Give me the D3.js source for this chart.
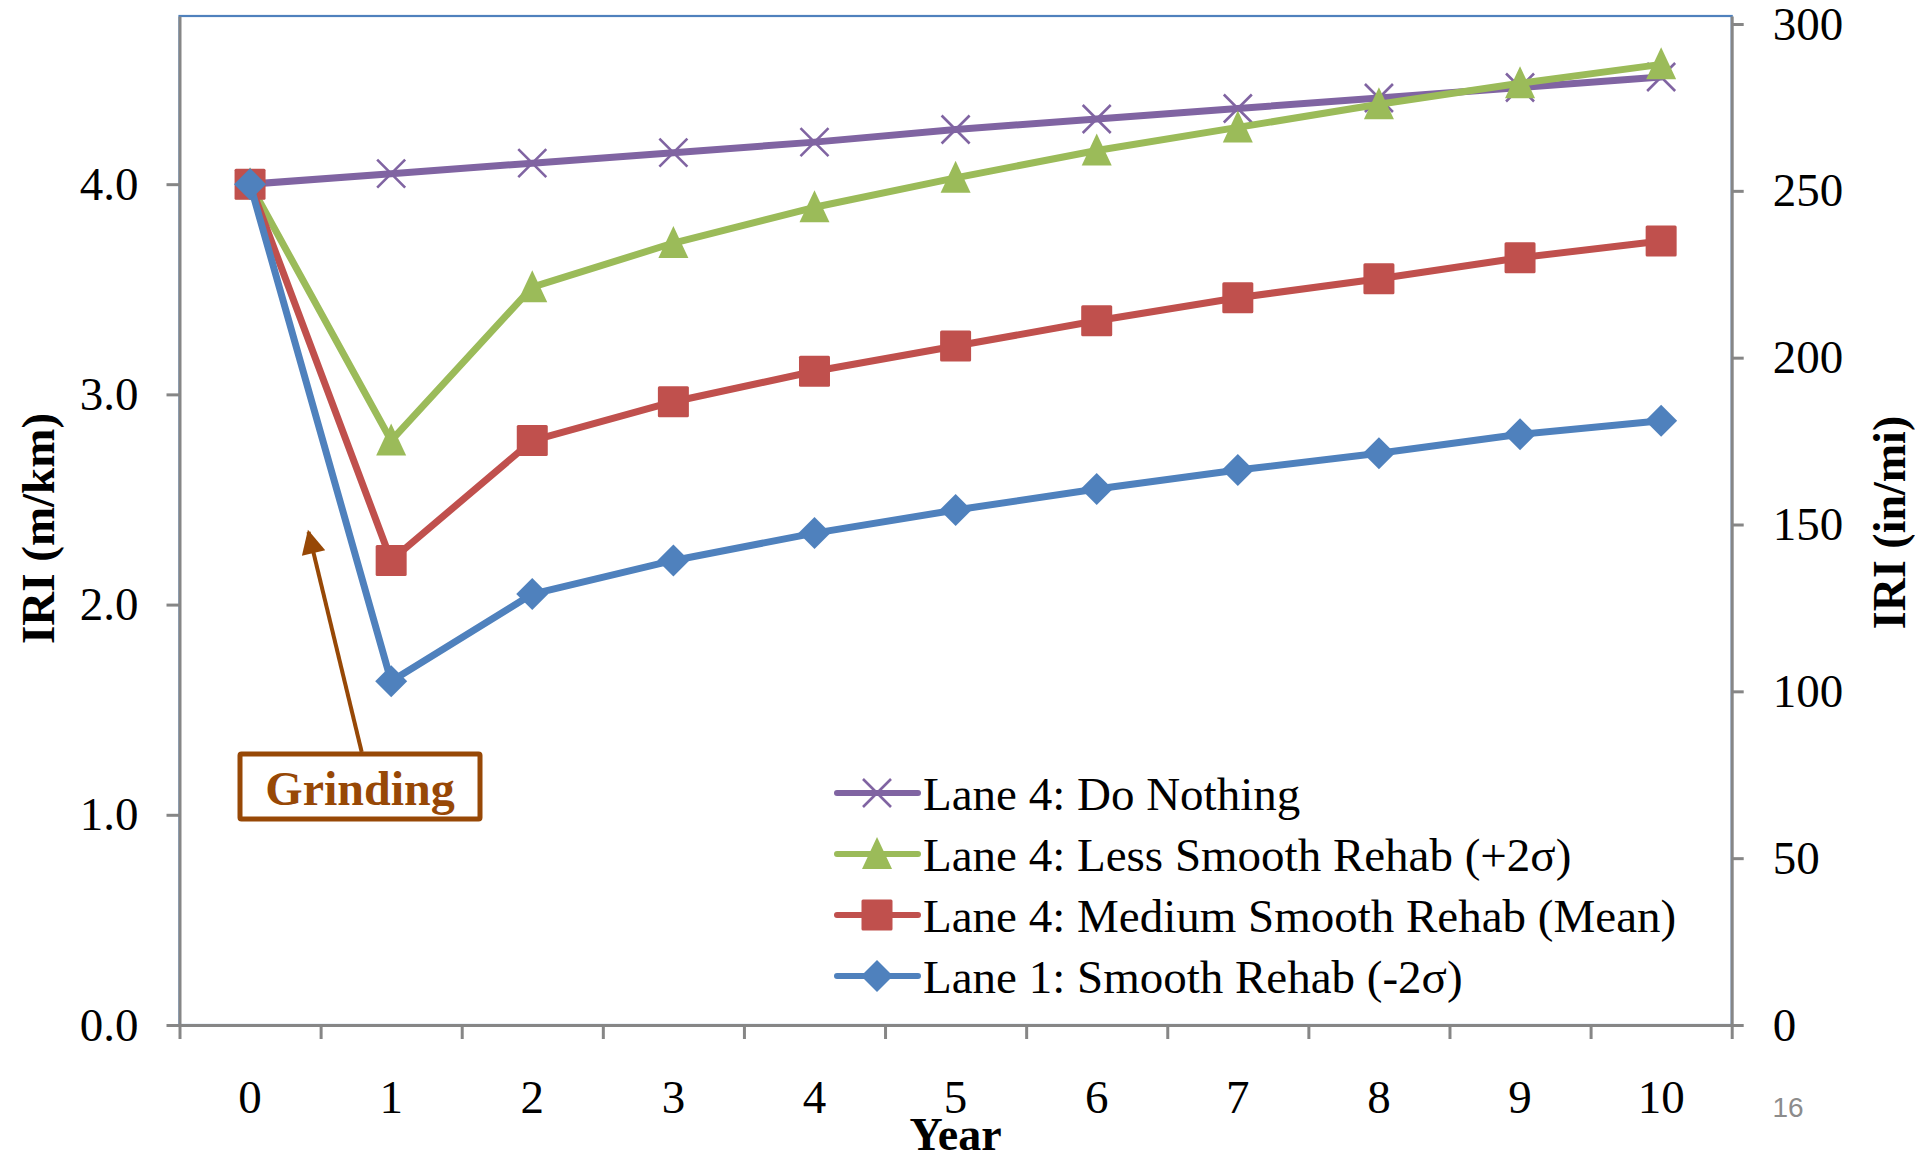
<!DOCTYPE html>
<html>
<head>
<meta charset="utf-8">
<script src="https://cdn.jsdelivr.net/npm/d3@7"></script>
<style>
  body { margin: 0; background: #fff; }
  svg { display: block; font-family: "Liberation Serif", "Times New Roman", serif; }
</style>
</head>
<body>
<div id="chart"></div>
<script>
// data (IRI in m/km)
const years = [0, 1, 2, 3, 4, 5, 6, 7, 8, 9, 10];
const doNothing = [4.0, 4.05, 4.1, 4.15, 4.2, 4.26, 4.31, 4.36, 4.41, 4.46, 4.51];
const lessSmooth = [4.0, 2.78, 3.51, 3.72, 3.89, 4.03, 4.16, 4.27, 4.38, 4.48, 4.57];
const mediumSmooth = [4.0, 2.21, 2.78, 2.965, 3.11, 3.23, 3.35, 3.46, 3.55, 3.65, 3.73];
const smoothRehab = [4.0, 1.635, 2.05, 2.21, 2.34, 2.45, 2.55, 2.64, 2.72, 2.81, 2.875];
const leftTicks = [0, 1, 2, 3, 4];
const rightTicks = [0, 50, 100, 150, 200, 250, 300];
const seriesNames = [
  "Lane 4: Do Nothing",
  "Lane 4: Less Smooth Rehab (+2\u03c3)",
  "Lane 4: Medium Smooth Rehab (Mean)",
  "Lane 1: Smooth Rehab (-2\u03c3)",
];

const W = 1915, H = 1155;
const plot = { left: 179.5, right: 1731.7, top: 16, bottom: 1025 };
const axisColor = "#868686";

const series = [
  { name: seriesNames[0], values: doNothing, color: "#8064a2", marker: "x" },
  { name: seriesNames[1], values: lessSmooth, color: "#9bbb59", marker: "triangle" },
  { name: seriesNames[2], values: mediumSmooth, color: "#c0504d", marker: "square" },
  { name: seriesNames[3], values: smoothRehab, color: "#4f81bd", marker: "diamond" },
];

const svg = d3.select("#chart").append("svg").attr("width", W).attr("height", H);
svg.append("rect").attr("width", W).attr("height", H).attr("fill", "#fff");

// scales
const x = d3.scaleBand().domain(years).range([plot.left, plot.right]);
const xEdges = d3.scaleLinear().domain([0, years.length]).range([plot.left, plot.right]);
const yLeft = d3.scaleLinear().domain([0, 4.8]).range([plot.bottom, plot.top]);
const yRight = d3.scaleLinear().domain([0, 4.8 * 63]).range([plot.bottom, plot.top]);

// plot area border (only the top shows)
svg.append("rect")
  .attr("x", plot.left).attr("y", plot.top)
  .attr("width", plot.right - plot.left).attr("height", plot.bottom - plot.top)
  .attr("fill", "none").attr("stroke", "#4f81bd").attr("stroke-width", 2.2);

function styleAxis(g) {
  g.select(".domain").attr("stroke", axisColor).attr("stroke-width", 3);
  g.selectAll(".tick line").attr("stroke", axisColor).attr("stroke-width", 3);
  g.selectAll(".tick text").attr("fill", "#000").style("font-size", "47px")
    .style("font-family", "'Liberation Serif', 'Times New Roman', serif");
}

// left axis
svg.append("g")
  .attr("transform", `translate(${plot.left},0)`)
  .call(d3.axisLeft(yLeft).tickValues(leftTicks).tickFormat(d3.format(".1f"))
    .tickSize(13).tickSizeOuter(0).tickPadding(28))
  .call(styleAxis);

// right axis
svg.append("g")
  .attr("transform", `translate(${plot.right},0)`)
  .call(d3.axisRight(yRight).tickValues(rightTicks)
    .tickSize(12).tickSizeOuter(0).tickPadding(29))
  .call(styleAxis);

// x axis: tick marks at the category edges
svg.append("g")
  .attr("transform", `translate(0,${plot.bottom})`)
  .call(d3.axisBottom(xEdges).tickValues(d3.range(0, years.length + 1))
    .tickFormat("").tickSize(14).tickSizeOuter(0))
  .call(styleAxis);

// x axis labels centred in each category
const xLab = svg.append("g")
  .attr("transform", `translate(0,${plot.bottom})`)
  .call(d3.axisBottom(x).tickSize(0));
xLab.select(".domain").remove();
xLab.selectAll(".tick text")
  .attr("y", 88).attr("dy", null).attr("fill", "#000")
  .style("font-size", "47px")
  .style("font-family", "'Liberation Serif', 'Times New Roman', serif");

// axis titles
svg.append("text")
  .attr("x", (plot.left + plot.right) / 2).attr("y", 1150)
  .attr("text-anchor", "middle")
  .style("font-size", "46px").style("font-weight", "bold")
  .text("Year");

svg.append("text")
  .attr("transform", `translate(54,${(plot.top + plot.bottom) / 2 + 8}) rotate(-90)`)
  .attr("text-anchor", "middle")
  .style("font-size", "47px").style("font-weight", "bold")
  .text("IRI (m/km)");

svg.append("text")
  .attr("transform", `translate(1905,${(plot.top + plot.bottom) / 2 + 2}) rotate(-90)`)
  .attr("text-anchor", "middle")
  .style("font-size", "46px").style("font-weight", "bold")
  .text("IRI (in/mi)");

// marker shapes
function drawMarker(g, type, color) {
  if (type === "x") {
    const s = 14;
    g.append("path")
      .attr("d", `M${-s},${-s}L${s},${s}M${-s},${s}L${s},${-s}`)
      .attr("stroke", color).attr("stroke-width", 2.6).attr("fill", "none");
  } else if (type === "triangle") {
    g.append("path").attr("d", "M0,-17L15,15L-15,15Z").attr("fill", color);
  } else if (type === "square") {
    g.append("rect").attr("x", -15.5).attr("y", -15.5).attr("width", 31).attr("height", 31)
      .attr("rx", 1.5).attr("fill", color);
  } else if (type === "diamond") {
    g.append("path").attr("d", "M0,-16L16,0L0,16L-16,0Z").attr("fill", color);
  }
}

const line = d3.line()
  .x((d, i) => x(years[i]) + x.bandwidth() / 2)
  .y((d) => yLeft(d));

series.forEach((s) => {
  const g = svg.append("g");
  g.append("path")
    .attr("d", line(s.values))
    .attr("fill", "none")
    .attr("stroke", s.color)
    .attr("stroke-width", 7)
    .attr("stroke-linejoin", "round")
    .attr("stroke-linecap", "round");
  s.values.forEach((v, i) => {
    const m = g.append("g")
      .attr("transform", `translate(${x(years[i]) + x.bandwidth() / 2},${yLeft(v)})`);
    drawMarker(m, s.marker, s.color);
  });
});

// legend
const legend = svg.append("g").attr("transform", "translate(834,793)");
series.forEach((s, i) => {
  const row = legend.append("g").attr("transform", `translate(0,${i * 61})`);
  row.append("line")
    .attr("x1", 3).attr("x2", 84).attr("y1", 0).attr("y2", 0)
    .attr("stroke", s.color).attr("stroke-width", 6).attr("stroke-linecap", "round");
  drawMarker(row.append("g").attr("transform", "translate(43,0)"), s.marker, s.color);
  row.append("text")
    .attr("x", 89).attr("y", 17)
    .style("font-size", "47px")
    .text(s.name);
});

// "Grinding" callout with arrow
const brown = "#974806";
svg.append("defs").append("marker")
  .attr("id", "arrowhead")
  .attr("viewBox", "0 0 10 10")
  .attr("refX", 9).attr("refY", 5)
  .attr("markerWidth", 8).attr("markerHeight", 6)
  .attr("markerUnits", "strokeWidth")
  .attr("orient", "auto")
  .append("path").attr("d", "M0,0L10,5L0,10Z").attr("fill", brown);

svg.append("line")
  .attr("x1", 361.7).attr("y1", 752)
  .attr("x2", 308.5).attr("y2", 532)
  .attr("stroke", brown).attr("stroke-width", 4)
  .attr("marker-end", "url(#arrowhead)");

svg.append("rect")
  .attr("x", 240).attr("y", 754).attr("width", 240).attr("height", 65)
  .attr("fill", "#fff").attr("stroke", brown).attr("stroke-width", 5).attr("rx", 1.5);

svg.append("text")
  .attr("x", 360).attr("y", 805)
  .attr("text-anchor", "middle")
  .attr("fill", brown)
  .style("font-size", "48px").style("font-weight", "bold")
  .text("Grinding");

// slide number
svg.append("text")
  .attr("x", 1788).attr("y", 1117)
  .attr("text-anchor", "middle")
  .attr("fill", "#8c8c8c")
  .style("font-family", "'Liberation Sans', Arial, sans-serif")
  .style("font-size", "28px")
  .text("16");
</script>
</body>
</html>
